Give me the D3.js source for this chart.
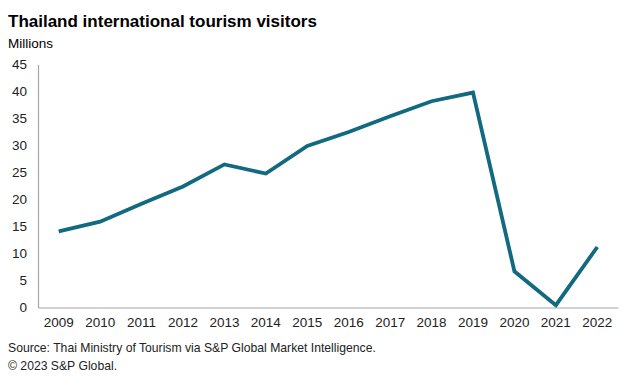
<!DOCTYPE html>
<html><head><meta charset="utf-8">
<script src="https://cdn.jsdelivr.net/npm/d3@7"></script>
<style>body{margin:0;background:#fff}svg{display:block;font-family:"Liberation Sans",Arial,sans-serif}</style>
</head><body><svg id="c" width="643" height="382"></svg>
<script>
const years = ["2009","2010","2011","2012","2013","2014","2015","2016","2017","2018","2019","2020","2021","2022"];
const visitors = [14.1,15.9,19.2,22.4,26.5,24.8,29.9,32.5,35.4,38.2,39.8,6.7,0.43,11.2];
const yTicks = [0,5,10,15,20,25,30,35,40,45];

(function(){
const svg = d3.select("#c");
const mLeft = 38, mRight = 618, mTop = 64.5, mBottom = 307.5;
const x = d3.scaleBand().domain(years).range([mLeft, mRight]);
const y = d3.scaleLinear().domain([0,45]).range([mBottom, mTop]);

svg.append("rect").attr("width",643).attr("height",382).attr("fill","#fff");
svg.append("text").attr("x",8).attr("y",27).attr("font-size",17).attr("font-weight","bold").attr("fill","#000").text("Thailand international tourism visitors");
svg.append("text").attr("x",8).attr("y",48).attr("font-size",13.5).attr("fill","#000").text("Millions");

const ya = svg.append("g").attr("transform",`translate(${mLeft},0)`)
  .call(d3.axisLeft(y).tickValues(yTicks).tickSize(0).tickPadding(11));
ya.select(".domain").attr("stroke","#a6a6a6").attr("stroke-width",1.2);
ya.selectAll("text").attr("font-size",13.5).attr("fill","#222").attr("font-family","Liberation Sans, Arial, sans-serif");

const xa = svg.append("g").attr("transform",`translate(0,${mBottom})`)
  .call(d3.axisBottom(x).tickSize(0).tickPadding(10));
xa.select(".domain").attr("stroke","#a6a6a6").attr("stroke-width",1.2);
xa.selectAll("text").attr("font-size",13.5).attr("fill","#222").attr("font-family","Liberation Sans, Arial, sans-serif");

const line = d3.line().x((d,i)=>x(years[i])+x.bandwidth()/2).y(d=>y(d));
svg.append("path").datum(visitors).attr("d",line).attr("fill","none")
  .attr("stroke","#116a7f").attr("stroke-width",3.8).attr("stroke-linejoin","miter");

svg.append("text").attr("x",8).attr("y",352).attr("font-size",12.2).attr("fill","#222").text("Source: Thai Ministry of Tourism via S&P Global Market Intelligence.");
svg.append("text").attr("x",8).attr("y",370).attr("font-size",12.2).attr("fill","#222").text("© 2023 S&P Global.");
})();
</script></body></html>
